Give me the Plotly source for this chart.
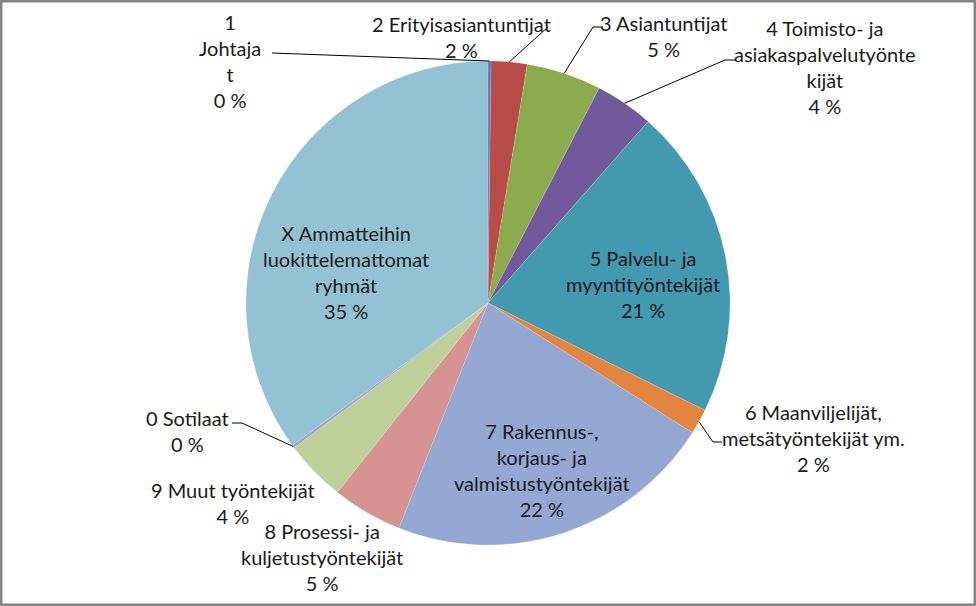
import math

import plotly.graph_objects as go

# --- data (percent shares) ---
categories = [
    "1 Johtajat",
    "2 Erityisasiantuntijat",
    "3 Asiantuntijat",
    "4 Toimisto- ja asiakaspalvelutyöntekijät",
    "5 Palvelu- ja myyntityöntekijät",
    "6 Maanviljelijät, metsätyöntekijät ym.",
    "7 Rakennus-, korjaus- ja valmistustyöntekijät",
    "8 Prosessi- ja kuljetustyöntekijät",
    "9 Muut työntekijät",
    "0 Sotilaat",
    "X Ammatteihin luokittelemattomat ryhmät",
]
shares = [0.2, 2.4, 5.0, 3.9, 20.8, 1.7, 22.0, 4.7, 4.1, 0.2, 35.0]

# label text as Excel wrapped it
wrapped = [
    "1<br>Johtaja<br>t",
    "2 Erityisasiantuntijat",
    "3 Asiantuntijat",
    "4 Toimisto- ja<br>asiakaspalvelutyönte<br>kijät",
    "5 Palvelu- ja<br>myyntityöntekijät",
    "6 Maanviljelijät,<br>metsätyöntekijät ym.",
    "7 Rakennus-,<br>korjaus- ja<br>valmistustyöntekijät",
    "8 Prosessi- ja<br>kuljetustyöntekijät",
    "9 Muut työntekijät",
    "0 Sotilaat",
    "X Ammatteihin<br>luokittelemattomat<br>ryhmät",
]

colors = [
    "#4a7ab8", "#b94b48", "#8cab4f", "#72599b", "#4399b0", "#e3853f",
    "#94a8d3", "#d69391", "#bed19b", "#ad9fc6", "#93c2d4",
]

# --- layout (pixels) ---
W, H = 976, 606
CX, CY, R = 488, 303, 242

# label centres and leader line start points (text side), pixels
label_pos = [
    (230, 61), (461, 37), (663, 36), (825, 67), (643, 284), (813, 438),
    (542, 470), (322, 557), (233, 503), (187, 431), (346, 272),
]
leaders = {
    0: [(272, 53)],
    1: [(548, 27)],
    2: [(603, 27), (593, 27)],
    3: [(735, 60), (725, 60)],
    5: [(722, 442), (713, 442)],
    9: [(232, 423), (242, 423)],
}


def px(x):
    return x / W


def py(y):
    return 1 - y / H


total = sum(shares)

fig = go.Figure(
    go.Pie(
        labels=categories,
        values=shares,
        sort=False,
        direction="clockwise",
        rotation=0,
        marker=dict(colors=colors, line=dict(color="rgba(255,255,255,0.3)", width=0.5)),
        textinfo="none",
        hoverinfo="label+percent",
        showlegend=False,
        domain=dict(x=[px(CX - R), px(CX + R)], y=[py(CY + R), py(CY - R)]),
    )
)

annotations = []
shapes = []
cum = 0.0
for i, (name, v) in enumerate(zip(wrapped, shares)):
    pct = round(v / total * 100)
    lx, ly = label_pos[i]
    annotations.append(
        dict(
            x=px(lx), y=py(ly), xref="paper", yref="paper",
            text=f"{name}<br>{pct} %", showarrow=False,
            xanchor="center", yanchor="middle", align="center",
            font=dict(family="Lato", size=20, color="#1a1a1a"),
        )
    )
    # leader line ends on the rim at the slice's mid angle
    theta = math.radians(360 * (cum + v / 2) / total)
    cum += v
    if i in leaders:
        rim = (CX + R * math.sin(theta), CY - R * math.cos(theta))
        pts = leaders[i] + [rim]
        path = "M " + " L ".join(f"{px(x):.5f},{py(y):.5f}" for x, y in pts)
        shapes.append(
            dict(type="path", path=path, xref="paper", yref="paper",
                 line=dict(color="#000000", width=1))
        )

# chart border
shapes.append(
    dict(type="rect", xref="paper", yref="paper", x0=0, x1=1, y0=0, y1=1,
         line=dict(color="#868686", width=5))
)

fig.update_layout(
    width=W,
    height=H,
    margin=dict(l=0, r=0, t=0, b=0),
    paper_bgcolor="white",
    plot_bgcolor="white",
    annotations=annotations,
    shapes=shapes,
)

# page body has a default 8px margin; drop it so the chart fills the window
fig.write_html(
    "out.html",
    config={"displayModeBar": False},
    post_script="document.body.style.margin='0';document.body.style.overflow='hidden';",
)
